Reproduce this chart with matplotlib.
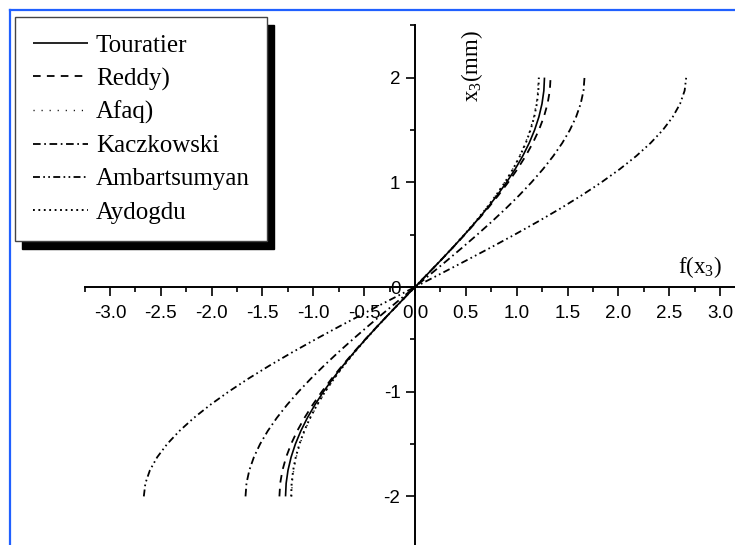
import matplotlib
matplotlib.use("Agg")
import matplotlib.pyplot as plt
from matplotlib.ticker import MultipleLocator, FormatStrFormatter
from matplotlib.lines import Line2D

plt.rcParams['lines.scale_dashes'] = False
plt.rcParams['axes.unicode_minus'] = False
plt.rcParams['mathtext.fontset'] = 'custom'
plt.rcParams['mathtext.rm'] = 'Liberation Serif'
plt.rcParams['mathtext.it'] = 'Liberation Serif:italic'

# ---- data ----
x3 = [-2, -1.875, -1.75, -1.625, -1.5, -1.375, -1.25, -1.125, -1, -0.875,
      -0.75, -0.625, -0.5, -0.375, -0.25, -0.125, 0,
      0.125, 0.25, 0.375, 0.5, 0.625, 0.75, 0.875, 1, 1.125, 1.25, 1.375,
      1.5, 1.625, 1.75, 1.875, 2]
touratier = [-1.2732, -1.2671, -1.2488, -1.2184, -1.1763, -1.1229, -1.0587, -0.9842,
             -0.9003, -0.8077, -0.7074, -0.6002, -0.4872, -0.3696, -0.2484, -0.1248, 0,
             0.1248, 0.2484, 0.3696, 0.4872, 0.6002, 0.7074, 0.8077, 0.9003, 0.9842,
             1.0587, 1.1229, 1.1763, 1.2184, 1.2488, 1.2671, 1.2732]
reddy = [-1.3333, -1.3257, -1.3034, -1.2674, -1.2188, -1.1584, -1.0872, -1.0063,
         -0.9167, -0.8192, -0.7148, -0.6047, -0.4896, -0.3706, -0.2487, -0.1248, 0,
         0.1248, 0.2487, 0.3706, 0.4896, 0.6047, 0.7148, 0.8192, 0.9167, 1.0063,
         1.0872, 1.1584, 1.2188, 1.2674, 1.3034, 1.3257, 1.3333]
afaq = [-1.2131, -1.2083, -1.1934, -1.1681, -1.1323, -1.0856, -1.0282, -0.9604,
        -0.8825, -0.7951, -0.6991, -0.5952, -0.4846, -0.3685, -0.2481, -0.1248, 0,
        0.1248, 0.2481, 0.3685, 0.4846, 0.5952, 0.6991, 0.7951, 0.8825, 0.9604,
        1.0282, 1.0856, 1.1323, 1.1681, 1.1934, 1.2083, 1.2131]
kaczkowski = [-1.6667, -1.6571, -1.6292, -1.5843, -1.5234, -1.4480, -1.3590, -1.2579,
              -1.1458, -1.0240, -0.8935, -0.7559, -0.6120, -0.4633, -0.3109, -0.1560, 0,
              0.1560, 0.3109, 0.4633, 0.6120, 0.7559, 0.8935, 1.0240, 1.1458, 1.2579,
              1.3590, 1.4480, 1.5234, 1.5843, 1.6292, 1.6571, 1.6667]
ambartsumyan = [-2.6667, -2.6514, -2.6068, -2.5348, -2.4375, -2.3167, -2.1745, -2.0127,
                -1.8333, -1.6384, -1.4297, -1.2093, -0.9792, -0.7412, -0.4974, -0.2497, 0,
                0.2497, 0.4974, 0.7412, 0.9792, 1.2093, 1.4297, 1.6384, 1.8333, 2.0127,
                2.1745, 2.3167, 2.4375, 2.5348, 2.6068, 2.6514, 2.6667]
aydogdu = [-1.2180, -1.2130, -1.1980, -1.1725, -1.1365, -1.0895, -1.0315, -0.9630,
           -0.8845, -0.7965, -0.7000, -0.5958, -0.4850, -0.3686, -0.2481, -0.1248, 0,
           0.1248, 0.2481, 0.3686, 0.4850, 0.5958, 0.7000, 0.7965, 0.8845, 0.9630,
           1.0315, 1.0895, 1.1365, 1.1725, 1.1980, 1.2130, 1.2180]

labels = ['Touratier', 'Reddy)', 'Afaq)', 'Kaczkowski', 'Ambartsumyan', 'Aydogdu']
series = [touratier, reddy, afaq, kaczkowski, ambartsumyan, aydogdu]
x_ticks = [-3.0, -2.5, -2.0, -1.5, -1.0, -0.5, 0.0, 0.5, 1.0, 1.5, 2.0, 2.5, 3.0]
y_ticks = [-2, -1, 0, 1, 2]

styles = [
    dict(linestyle='-', linewidth=1.2),
    dict(linestyle=(0, (5.5, 4.5)), linewidth=1.3),
    dict(linestyle=(0, (0.8, 5.0)), linewidth=1.0),
    dict(linestyle=(0, (5.5, 2.6, 1.2, 2.6)), linewidth=1.3),
    dict(linestyle=(0, (5.0, 2.4, 1.2, 2.4, 1.2, 2.4)), linewidth=1.3),
    dict(linestyle=(0, (1.3, 2.6)), linewidth=1.4),
]

W, H = 735, 545
fig = plt.figure(figsize=(W / 100, H / 100), dpi=100)
fig.patch.set_facecolor('white')

ax = fig.add_axes([84.5 / W, -3.75 / H, 661 / W, 523.5 / H])
ax.set_xlim(-3.25, 3.25)
ax.set_ylim(-2.5, 2.5)
ax.patch.set_alpha(0)

for s, lab, st in zip(series, labels, styles):
    ax.plot(s, x3, color='black', label=lab, solid_capstyle='butt',
            dash_capstyle='butt', **st)

for side in ('top', 'right'):
    ax.spines[side].set_visible(False)
ax.spines['left'].set_position(('data', 0))
ax.spines['bottom'].set_position(('data', 0))
for side in ('left', 'bottom'):
    ax.spines[side].set_linewidth(1.4)
    ax.spines[side].set_color('black')

ax.set_xticks(x_ticks)
ax.set_yticks(y_ticks)
ax.xaxis.set_minor_locator(MultipleLocator(0.25))
ax.yaxis.set_minor_locator(MultipleLocator(0.5))
ax.xaxis.set_major_formatter(FormatStrFormatter('%.1f'))
ax.yaxis.set_major_formatter(FormatStrFormatter('%d'))
ax.tick_params(which='major', direction='out', length=6.5, width=1.2,
               labelsize=13.5)
ax.tick_params(axis='x', which='major', pad=6.8)
ax.tick_params(axis='y', which='major', pad=4)
ax.tick_params(which='minor', direction='out', length=3.6, width=1.2)
for lbl in ax.get_xticklabels() + ax.get_yticklabels():
    lbl.set_fontfamily('Liberation Sans')

ax.text(2.80, 0.13, r'f(x$_{\mathrm{3}}$)', family='Liberation Serif',
        fontsize=16.5, ha='center', va='baseline')
ax.text(0.565, 2.11, r'x$_{\mathrm{3}}$(mm)', family='Liberation Serif',
        fontsize=16.5, ha='center', va='center', rotation=90)

leg = ax.legend(loc='upper left', bbox_to_anchor=(15 / W, 1 - 17 / H),
                bbox_transform=fig.transFigure, borderaxespad=0,
                prop={'family': 'Liberation Serif', 'size': 18},
                handlelength=2.2, handletextpad=0.34, labelspacing=0.42,
                borderpad=0.7, fancybox=False, framealpha=1,
                shadow={'ox': 5, 'oy': -5.8, 'color': 'black', 'alpha': 1})
leg.get_frame().set_edgecolor('#444444')
leg.get_frame().set_linewidth(1.0)

blue = '#2060ff'
fig.add_artist(Line2D([10 / W, 1], [1 - 10 / H, 1 - 10 / H],
                      transform=fig.transFigure, color=blue, linewidth=1.6))
fig.add_artist(Line2D([10 / W, 10 / W], [0, 1 - 10 / H],
                      transform=fig.transFigure, color=blue, linewidth=1.6))

fig.savefig('out.png', dpi=100)
